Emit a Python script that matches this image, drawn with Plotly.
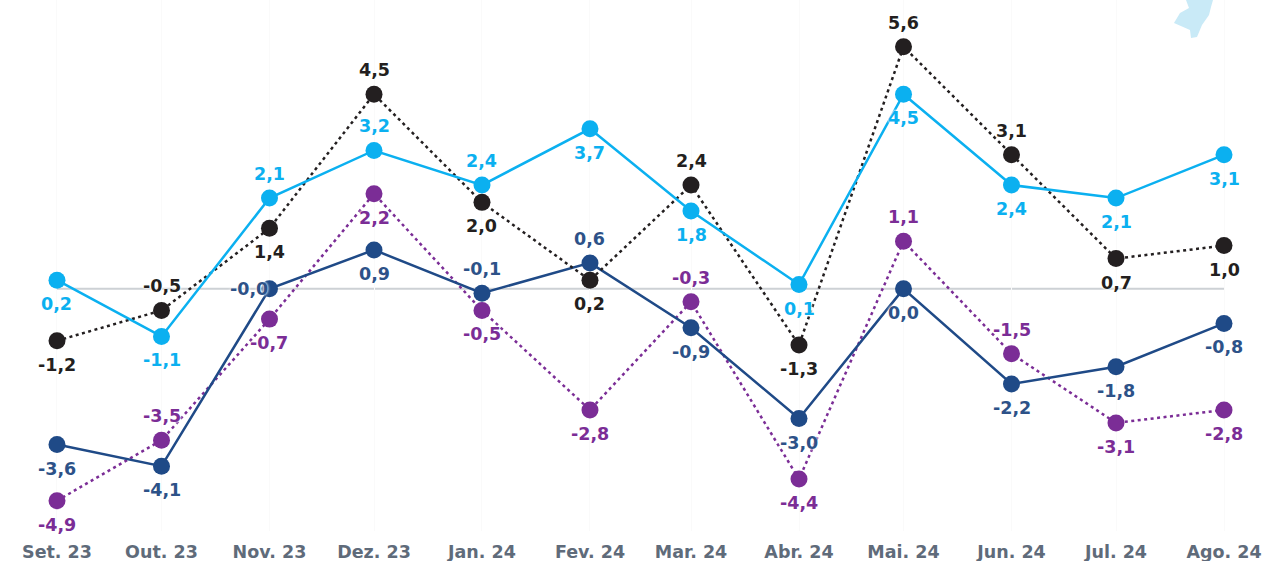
import plotly.graph_objects as go

months = ["Set. 23","Out. 23","Nov. 23","Dez. 23","Jan. 24","Fev. 24","Mar. 24","Abr. 24","Mai. 24","Jun. 24","Jul. 24","Ago. 24"]
dates = ["2023-09-01","2023-10-01","2023-11-01","2023-12-01","2024-01-01","2024-02-01","2024-03-01","2024-04-01","2024-05-01","2024-06-01","2024-07-01","2024-08-01"]
black = [-1.2,-0.5,1.4,4.5,2.0,0.2,2.4,-1.3,5.6,3.1,0.7,1.0]
cyan = [0.2,-1.1,2.1,3.2,2.4,3.7,1.8,0.1,4.5,2.4,2.1,3.1]
navy = [-3.6,-4.1,-0.0,0.9,-0.1,0.6,-0.9,-3.0,0.0,-2.2,-1.8,-0.8]
purple = [-4.9,-3.5,-0.7,2.2,-0.5,-2.8,-0.3,-4.4,1.1,-1.5,-3.1,-2.8]
black_pos = ["b","t","b","t","b","b","t","b","t","t","b","b"]
cyan_pos = ["b","b","t","t","t","b","b","b","b","b","b","b"]
navy_pos = ["b","b","l","b","t","t","b","b","b","b","b","b"]
purple_pos = ["b","t","b","b","b","b","t","b","t","t","b","b"]

fig = go.Figure()
notes = []
SHIFT = {"t": (0, 24), "b": (0, -24), "l": (-20, 0)}
DOTS = "3px,3.5px"

def add(vals, pos, color, textcolor, dash, width):
    fig.add_trace(go.Scatter(x=dates, y=vals, mode="lines+markers",
        line=dict(color=color, width=width, dash=dash),
        marker=dict(color=color, size=17),
        cliponaxis=False, showlegend=False, hoverinfo="skip"))
    for m, v, p in zip(dates, vals, pos):
        dx, dy = SHIFT[p]
        notes.append(dict(x=m, y=v, xref="x", yref="y", showarrow=False,
            text=f"{v:.1f}".replace(".", ","), xshift=dx, yshift=dy,
            font=dict(color=textcolor, size=17.5, family="DejaVu Sans", weight="bold",
                      shadow="0 0 3px white, 0 0 3px white")))

add(purple, purple_pos, "#7B2D96", "#7B2D96", DOTS, 2.5)
add(navy, navy_pos, "#1F4A87", "#2D5288", "solid", 2.5)
add(black, black_pos, "#231F20", "#231F20", DOTS, 2.5)
add(cyan, cyan_pos, "#0BB0F0", "#0BB0F0", "solid", 2.5)

blob = [(1186,0),(1213,0),(1211,7),(1209,15),(1202,25),(1197,37),(1191,38),(1190,30),(1174,23),(1180,13),(1189,8)]
PW, PH = 1265, 531
path = "M " + " L ".join(f"{x/PW:.5f},{1-y/PH:.5f}" for x, y in blob) + " Z"

fig.update_layout(width=1265, height=561, margin=dict(l=0,r=0,t=0,b=30),
    paper_bgcolor="white", plot_bgcolor="white", annotations=notes,
    shapes=[
        dict(type="line", xref="x", yref="y", x0=dates[0], x1=dates[-1], y0=0, y1=0,
             line=dict(color="#CDD1D5", width=2), layer="below"),
        dict(type="path", xref="paper", yref="paper", path=path,
             fillcolor="#C9EAF7", line=dict(width=0), layer="below"),
    ],
    xaxis=dict(type="date", range=["2023-08-15 15:22","2024-08-12 18:29"], tickmode="array", tickvals=dates, ticktext=months,
        showgrid=True, gridcolor="#FAFAFA", gridwidth=1, zeroline=False, showline=False,
        ticks="", ticklabelstandoff=8, tickfont=dict(size=17.5, color="#5F6B7A", family="DejaVu Sans", weight="bold")),
    yaxis=dict(range=[-5.600,6.680], showgrid=False, showticklabels=False, zeroline=False))
fig.write_html("out.html", config=dict(displayModeBar=False), post_script="document.body.style.margin='0';document.body.style.overflow='hidden';")
